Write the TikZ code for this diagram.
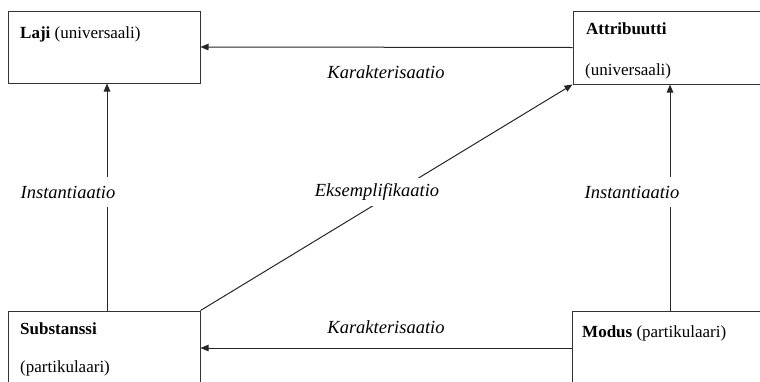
\documentclass[tikz,border=0pt]{standalone}
\usepackage{fontspec}
\setmainfont{Liberation Serif}
\usetikzlibrary{arrows.meta,calc}
\begin{document}
\begin{tikzpicture}[x=1pt,y=-1pt,
  box/.style={draw=black!80,line width=1pt,rectangle,inner sep=0pt},
  arr/.style={draw=black!85,line width=1pt,-{Triangle[length=8pt,width=6.5pt]}},
  txt/.style={inner sep=0pt,anchor=base west,font=\fontsize{17}{20}\selectfont},
  lbl/.style={inner sep=2pt,fill=white,font=\fontsize{18.5}{22}\selectfont\itshape},
  onl/.style={lbl,inner ysep=9pt}]
\useasboundingbox (0,0) rectangle (760,381);
\clip (0,0) rectangle (760,381);
\node[box,minimum width=192pt,minimum height=72pt] (laji) at (104,47) {};
\node[box,minimum width=210pt,minimum height=73pt] (attr) at (678,47.5) {};
\node[box,minimum width=192pt,minimum height=74pt] (sub) at (104,348) {};
\node[box,minimum width=210pt,minimum height=74pt] (mod) at (677,348) {};
\node[txt] (t1) at (20,38) {\textbf{Laji} (universaali)};
\node[txt] (t2) at (586,34) {\textbf{Attribuutti}};
\node[txt] (t3) at (585,75) {(universaali)};
\node[txt] (t4) at (20,334) {\textbf{Substanssi}};
\node[txt] (t5) at (20,372) {(partikulaari)};
\node[txt] (t6) at (582,337) {\textbf{Modus} (partikulaari)};
\coordinate (xl) at (107,0);
\coordinate (xr) at (670,0);
\draw[arr] (attr.west) -- (laji.east);
\draw[arr] (mod.west) -- (sub.east);
\draw[arr] (sub.north -| xl) -- (laji.south -| xl);
\draw[arr] (mod.north -| xr) -- (attr.south -| xr);
\draw[arr] (sub.north east) -- (attr.south west);
\node[lbl] (k1) at (386,72) {Karakterisaatio};
\node[lbl] (k2) at (386,327) {Karakterisaatio};
\node[onl] (i1) at (68,192) {Instantiaatio};
\node[onl] (i2) at (632,192) {Instantiaatio};
\node[onl,inner ysep=6pt] (e1) at (377,192) {Eksemplifikaatio};
\end{tikzpicture}
\end{document}
